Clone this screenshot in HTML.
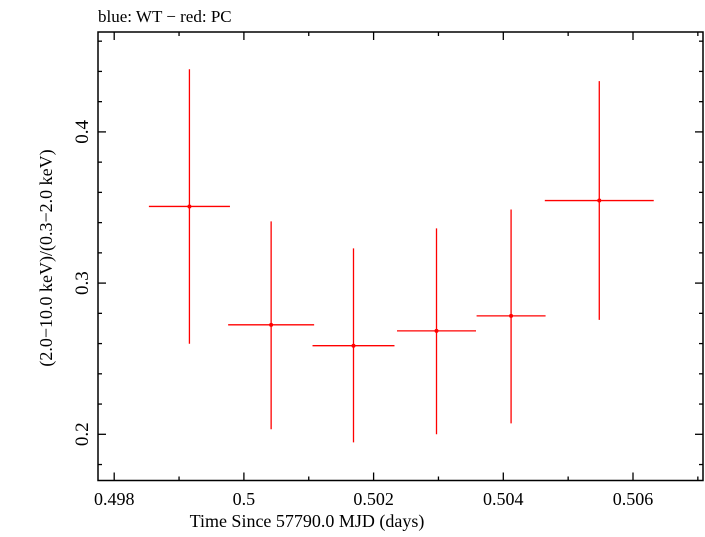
<!DOCTYPE html>
<html><head><meta charset="utf-8"><style>
body{margin:0;background:#fff;}
svg text{font-family:"Liberation Serif",serif;fill:#000;}
</style></head><body>
<svg width="705" height="532" xmlns="http://www.w3.org/2000/svg">
<text x="98" y="22" font-size="17">blue: WT − red: PC</text>
<rect x="98" y="32" width="605" height="448.5" fill="none" stroke="#000" stroke-width="1.5"/>
<g id="ticks"></g>
<g id="marks"></g>
<text x="307" y="527" font-size="18" text-anchor="middle">Time Since 57790.0 MJD (days)</text>
<text transform="translate(52,258) rotate(-90)" font-size="18" text-anchor="middle">(2.0−10.0 keV)/(0.3−2.0 keV)</text>
</svg>
<script>
const xCenters=[0.49916,0.50042,0.50169,0.50297,0.50412,0.50548];
const xHalf=[0.000625,0.000663,0.000632,0.000609,0.000532,0.00084];
const yValues=[0.3507,0.2724,0.2586,0.2684,0.2783,0.3546];
const yHigh=[0.4414,0.3408,0.3230,0.3362,0.3487,0.4336];
const yLow=[0.2599,0.2033,0.1947,0.2000,0.2072,0.2757];
const xTickLabels=["0.498","0.5","0.502","0.504","0.506"];
const yTickLabels=["0.2","0.3","0.4"];
const NS="http://www.w3.org/2000/svg";
const L=98,R=703,T=32,B=480.5;
function xs(v){return 114.2+(v-0.498)*64850;}
function ys(v){return 434.3-(v-0.2)*1512;}
function mk(t,a,p){const e=document.createElementNS(NS,t);for(const k in a)e.setAttribute(k,a[k]);p.appendChild(e);return e;}
const tg=document.getElementById('ticks');
for(let i=0;i<=9;i++){const v=0.498+i*0.001;const x=xs(v);if(x<L||x>R)continue;const len=i%2==0?8:4;
 let l=mk('line',{x1:x,x2:x,y1:B,y2:B-len,stroke:'#000','stroke-width':1.3},tg);
 
 
 l=mk('line',{x1:x,x2:x,y1:T,y2:T+len,stroke:'#000','stroke-width':1.3},tg);
 
 }
xTickLabels.forEach(s=>{const t=mk('text',{x:xs(parseFloat(s)),y:505,'font-size':18,'text-anchor':'middle'},tg);t.textContent=s;
 
 });
for(let i=0;i<=20;i++){const v=0.16+i*0.02;const y=ys(v);if(y<T||y>B)continue;const major=Math.abs(v*10-Math.round(v*10))<1e-6;const len=major?8:4;
 let l=mk('line',{x1:L,x2:L+len,y1:y,y2:y,stroke:'#000','stroke-width':1.3},tg);
 
 
 l=mk('line',{x1:R,x2:R-len,y1:y,y2:y,stroke:'#000','stroke-width':1.3},tg);
 
 }
yTickLabels.forEach(s=>{const y=ys(parseFloat(s));const t=mk('text',{transform:`translate(88,${y}) rotate(-90)`,'font-size':19,'text-anchor':'middle'},tg);t.textContent=s;
 
 });
const mg=document.getElementById('marks');
xCenters.forEach((c,i)=>{const g=mk('g',{},mg);
 
 
 mk('line',{x1:xs(c-xHalf[i]),x2:xs(c+xHalf[i]),y1:ys(yValues[i]),y2:ys(yValues[i]),stroke:'#f00','stroke-width':1.3},g);
 mk('line',{x1:xs(c),x2:xs(c),y1:ys(yHigh[i]),y2:ys(yLow[i]),stroke:'#f00','stroke-width':1.3},g);
 mk('circle',{cx:xs(c),cy:ys(yValues[i]),r:2,fill:'#f00'},g);});
</script>
</body></html>
